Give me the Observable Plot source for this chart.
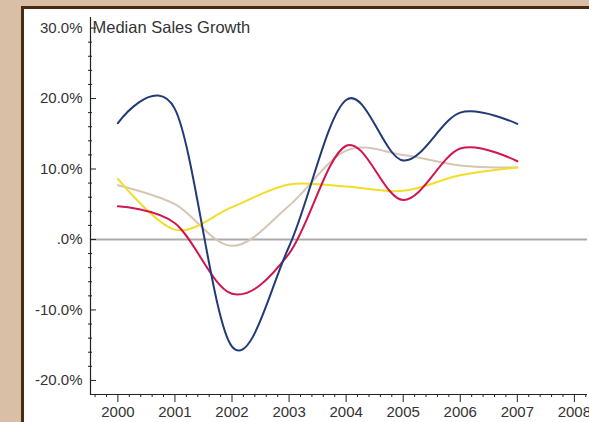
<!DOCTYPE html>
<html>
<head>
<meta charset="utf-8">
<script src="https://cdn.jsdelivr.net/npm/d3@7"></script>
<script src="https://cdn.jsdelivr.net/npm/@observablehq/plot@0.6"></script>
<style>
  html, body { margin: 0; padding: 0; }
  body {
    width: 589px; height: 422px; overflow: hidden; position: relative;
    background: #d8bfa5;
    font-family: "Liberation Sans", Arial, sans-serif;
  }
  #panel {
    position: absolute; left: 21px; top: 6px; width: 600px; height: 440px;
    background: #ffffff;
    border-left: 3px solid #4a2a10; border-top: 3px solid #4a2a10;
  }
  #chart { position: absolute; left: 0; top: 0; }
</style>
</head>
<body>
<div id="panel"></div>
<div id="chart"></div>
<script>
// Median sales growth (%) by year for four groups
const years = [2000, 2001, 2002, 2003, 2004, 2005, 2006, 2007];
const navySeries   = [16.5, 18.5, -15.2, -1.0, 19.8, 11.2, 18.0, 16.4];
const crimsonSeries = [4.7, 2.3, -7.7, -2.0, 13.3, 5.6, 12.9, 11.1];
const sandSeries   = [7.7, 5.0, -0.9, 4.8, 12.6, 12.0, 10.5, 10.2];
const goldSeries   = [8.6, 1.4, 4.6, 7.8, 7.5, 6.9, 9.1, 10.2];

const yearTicks = [2000, 2001, 2002, 2003, 2004, 2005, 2006, 2007, 2008];
const yMajor = [-20, -10, 0, 10, 20, 30];
const yLabels = ["-20.0%", "-10.0%", ".0%", "10.0%", "20.0%", "30.0%"];

const xDomain = [1999.52, 2008.23];
const yDomain = [-22, 31.5];

const W = 589, H = 422, mL = 90, mR = 2, mT = 17, mB = 28;
const xPerPx = (xDomain[1] - xDomain[0]) / (W - mL - mR);

const series = [
  {name: "sand", values: sandSeries, color: "#d5c6b5"},
  {name: "gold", values: goldSeries, color: "#f2dd2a"},
  {name: "crimson", values: crimsonSeries, color: "#d1154f"},
  {name: "navy", values: navySeries, color: "#213a78"}
];
const rows = series.flatMap(s => years.map((yr, i) => ({series: s.name, year: yr, value: s.values[i]})));

const yMinor = d3.range(-20, 31, 2).filter(v => v % 10 !== 0);
const xMinor = d3.range(1999.6, 2008.25, 0.2).map(v => Math.round(v * 10) / 10).filter(v => Math.abs(v - Math.round(v)) > 1e-6);

const chart = Plot.plot({
  width: W, height: H,
  marginLeft: mL, marginRight: mR, marginTop: mT, marginBottom: mB,
  style: {background: "transparent", fontFamily: "'Liberation Sans', Arial, sans-serif", fontSize: "15px", color: "#333"},
  x: {domain: xDomain, axis: null},
  y: {domain: yDomain, axis: null},
  color: {domain: series.map(s => s.name), range: series.map(s => s.color)},
  marks: [
    // zero reference line
    Plot.ruleY([0], {stroke: "#aaaaaa", strokeWidth: 2}),
    // growth curves (uniform cardinal spline through the yearly values)
    Plot.line(rows, {x: "year", y: "value", z: "series", stroke: "series", strokeWidth: 2, curve: "cardinal", tension: 0}),
    // axis lines
    Plot.ruleX([xDomain[0]], {stroke: "#222", strokeWidth: 1.2}),
    Plot.ruleY([yDomain[0]], {stroke: "#222", strokeWidth: 1.2}),
    // y axis: major ticks inside, minor ticks across the line
    Plot.ruleY(yMajor, {x1: xDomain[0], x2: xDomain[0] + 6 * xPerPx, stroke: "#222"}),
    Plot.ruleY(yMinor, {x1: xDomain[0] - 2 * xPerPx, x2: xDomain[0] + 2 * xPerPx, stroke: "#222"}),
    Plot.text(yMajor, {x: xDomain[0], y: d => d, text: (d, i) => yLabels[i], textAnchor: "end", dx: -8, fill: "#333"}),
    // x axis
    Plot.axisX({ticks: yearTicks, tickSize: 8, tickPadding: 4, tickFormat: d => String(d), stroke: "#222", fill: "#333", label: null}),
    Plot.axisX({ticks: xMinor, tickSize: 3, text: null, stroke: "#222", label: null}),
    // title
    Plot.text(["Median Sales Growth"], {frameAnchor: "top-left", dx: 2, dy: 4, lineAnchor: "top", textAnchor: "start", fontSize: 16.5, fill: "#333"})
  ]
});
document.getElementById("chart").append(chart);
</script>
</body>
</html>
